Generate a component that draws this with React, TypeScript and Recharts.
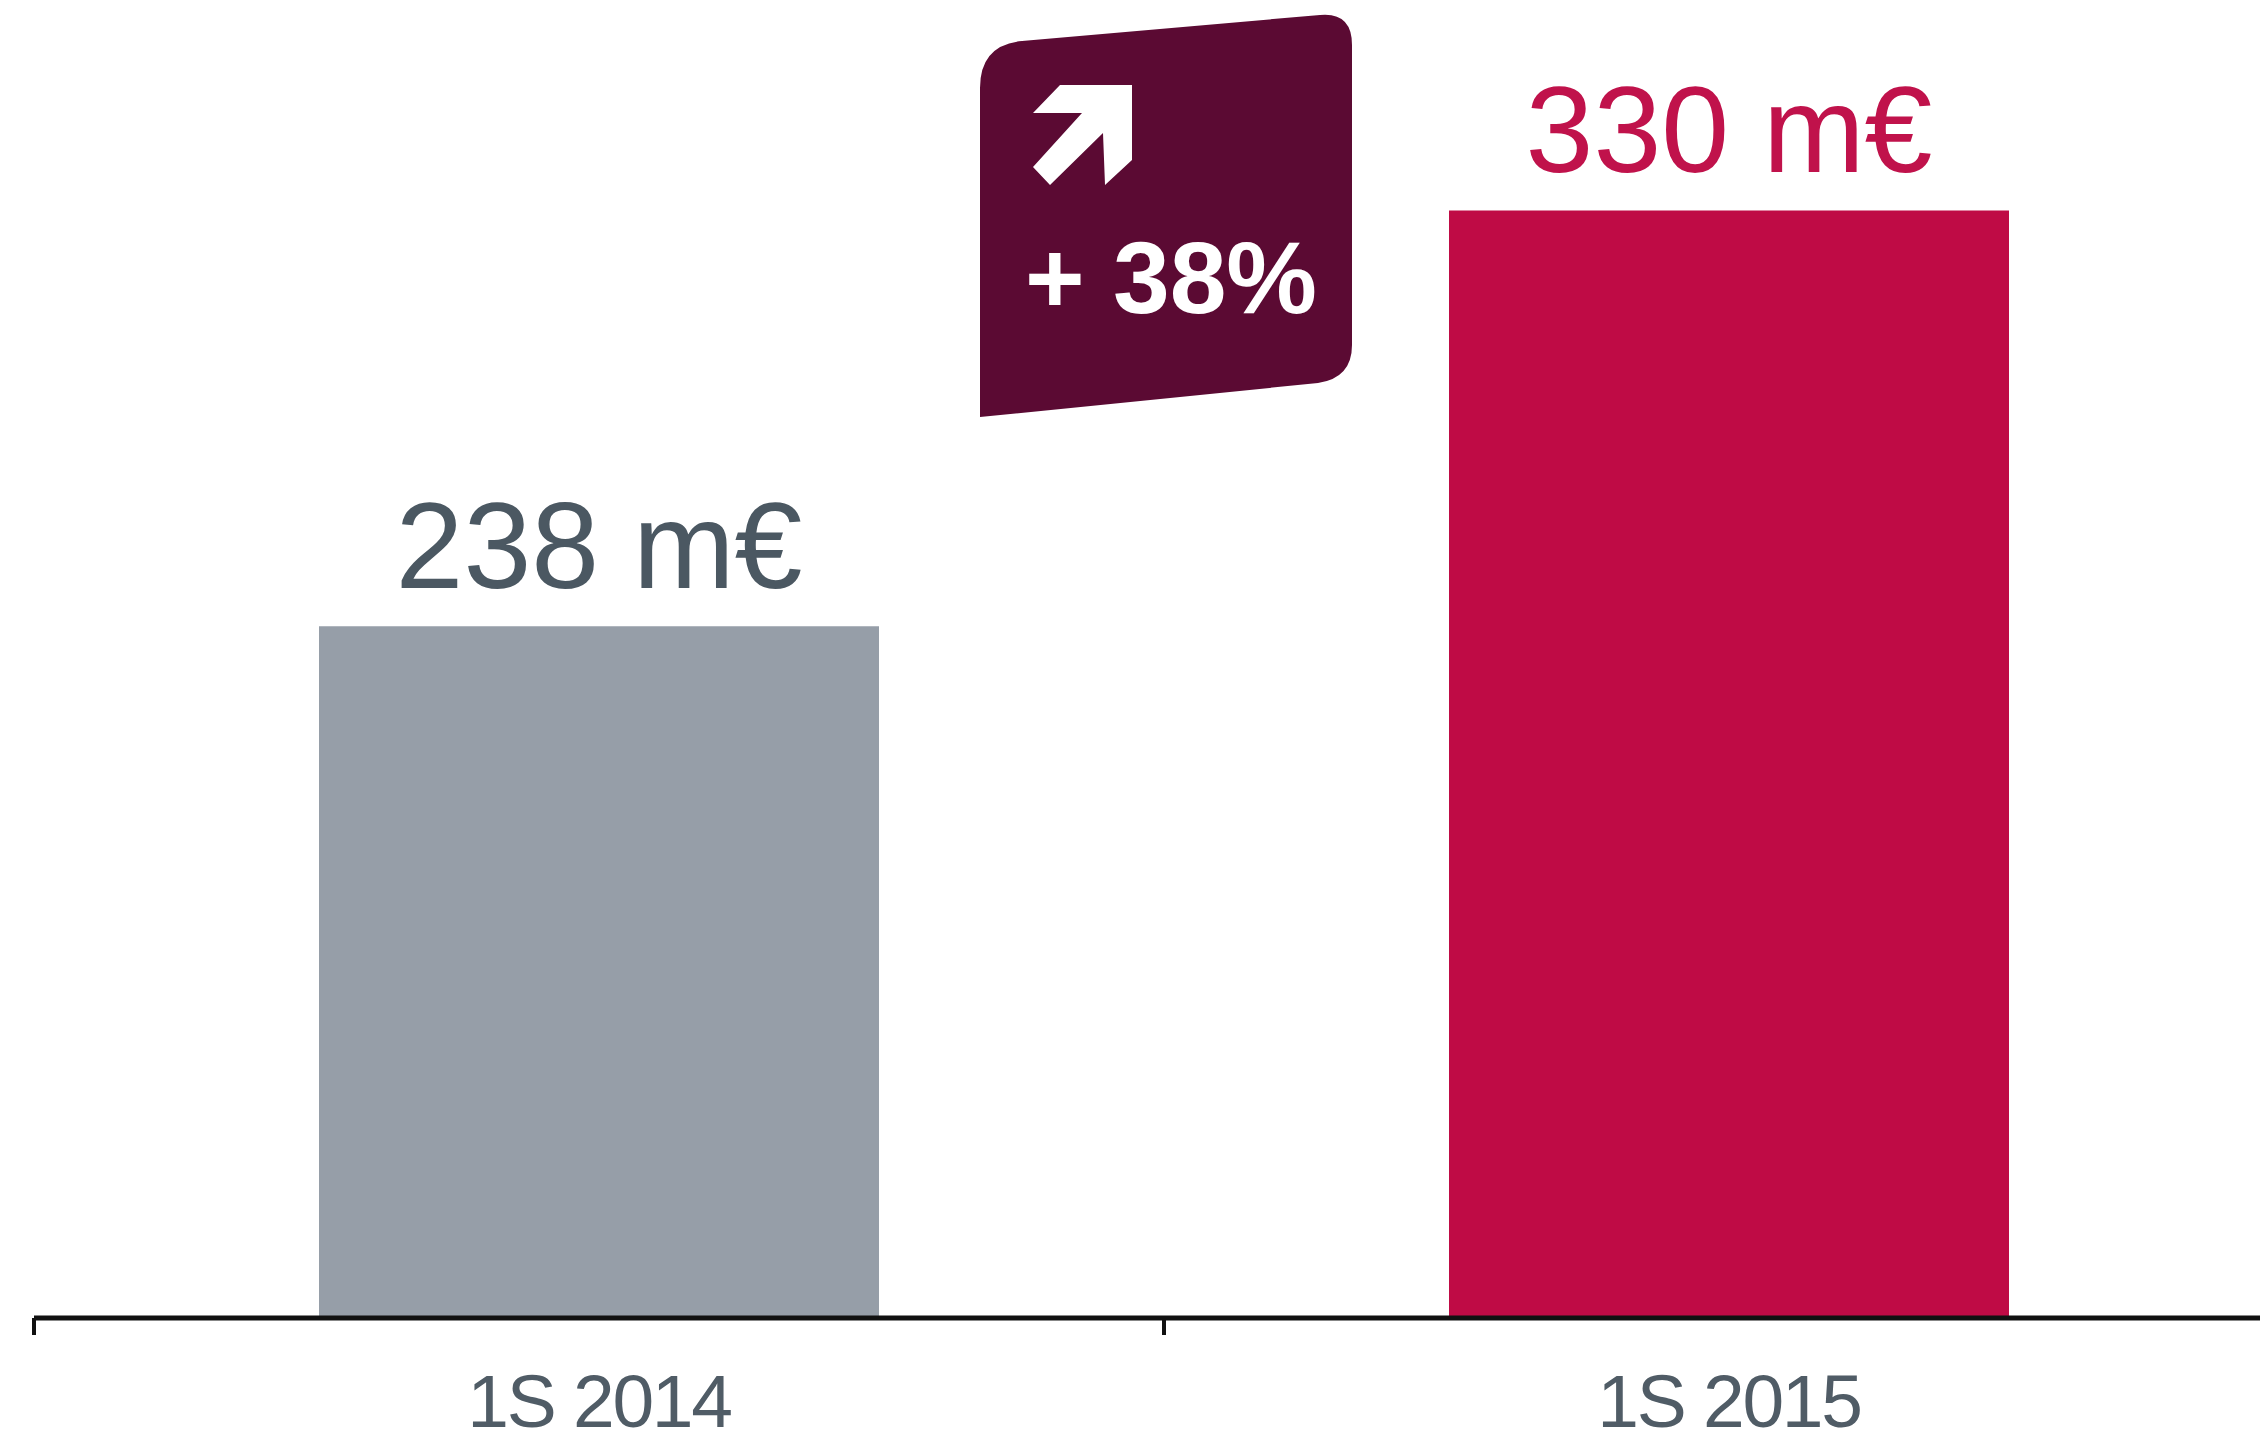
import React from 'react';
import { BarChart, Bar, XAxis, YAxis, Cell, LabelList } from 'recharts';

const categories = ['1S 2014', '1S 2015'];
const revenue = [238, 330];
const barColors = ['#969ea8', '#bf0b45'];
const labelColors = ['#4b5862', '#c0124b'];
const growthText = '+ 38%';

const data = categories.map((name, i) => ({ name, value: revenue[i] }));

const FONT = '"Liberation Sans", Arial, sans-serif';

const ValueLabel = (props: any) => {
  const { x, y, width, value, index } = props;
  return (
    <text
      x={x + width / 2}
      y={y - 38}
      textAnchor="middle"
      fontSize={122}
      fontFamily={FONT}
      fill={labelColors[index]}
    >
      {`${value} m€`}
    </text>
  );
};

// category label plus a tick mark at the left edge of its band
const CategoryTick = (props: any) => {
  const { x, y, payload } = props;
  const edge = x - (payload.offset ?? 0);
  return (
    <g>
      <line x1={edge} x2={edge} y1={y} y2={y + 17} stroke="#111" strokeWidth={4} />
      <text
        x={x}
        y={y + 109}
        textAnchor="middle"
        fontSize={75}
        fontFamily={FONT}
        fill="#505c66"
        style={{ letterSpacing: -2.3 }}
      >
        {payload.value}
      </text>
    </g>
  );
};

// growth badge drawn over the chart
const GrowthBadge = () => (
  <svg width={2260} height={1442} style={{ position: 'absolute', left: 0, top: 0, pointerEvents: 'none' }}>
    <path
      d="M 980 417 L 980 88 Q 980 45 1022 41 L 1320 15 Q 1352 12 1352 45 L 1352 345 Q 1352 378 1318 383 Z"
      fill="#5b0a33"
    />
    <polygon
      points="1132,85 1132,160 1105,185 1103,133 1050,185 1033,167 1082,113 1033,113 1060,85"
      fill="#fff"
    />
    <text x={1025} y={313} fontSize={102} fontWeight="bold" fontFamily={FONT} fill="#fff">
      {growthText}
    </text>
  </svg>
);

export default function App() {
  return (
    <div style={{ position: 'absolute', left: 0, top: 0, width: 2260, height: 1442, overflow: 'hidden', background: '#fff' }}>
      <BarChart width={2294} height={1442} data={data} margin={{ top: 7, right: 0, left: 34, bottom: 0 }}>
        <XAxis
          dataKey="name"
          height={124}
          axisLine={{ stroke: '#111', strokeWidth: 5 }}
          tickLine={false}
          tickSize={0}
          tickMargin={0}
          tick={<CategoryTick />}
        />
        <YAxis hide domain={[85, 375]} allowDataOverflow />
        <Bar dataKey="value" barSize={560} isAnimationActive={false}>
          {data.map((d, i) => (
            <Cell key={d.name} fill={barColors[i]} />
          ))}
          <LabelList dataKey="value" content={ValueLabel} />
        </Bar>
      </BarChart>
      <GrowthBadge />
    </div>
  );
}
